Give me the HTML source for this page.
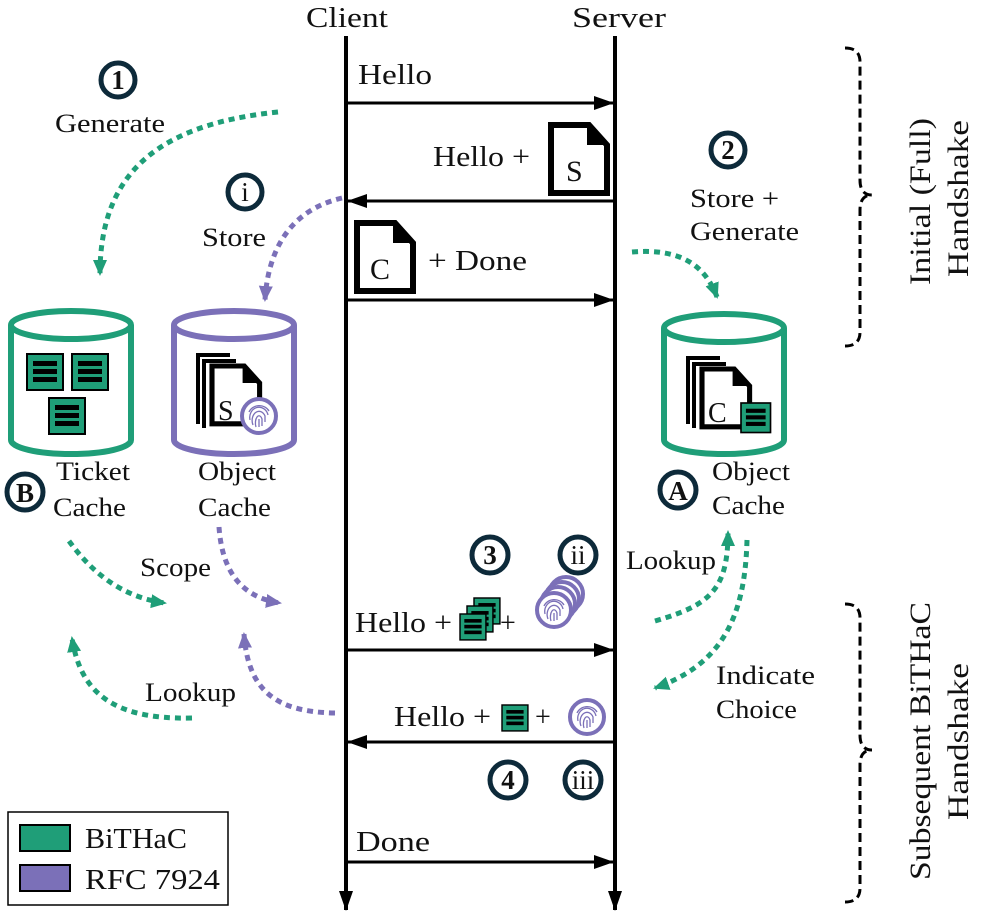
<!DOCTYPE html>
<html><head><meta charset="utf-8"><style>
html,body{margin:0;padding:0;background:#fff}
svg{display:block}
text{font-family:"Liberation Serif",serif;fill:#111}
</style></head><body>
<svg width="996" height="914" viewBox="0 0 996 914" xmlns="http://www.w3.org/2000/svg">
<defs>
<marker id="ab" markerWidth="20" markerHeight="14" refX="19" refY="7" orient="auto" markerUnits="userSpaceOnUse"><path d="M0,0 L20,7 L0,14 z" fill="#000"/></marker>
<marker id="ag" markerWidth="16" markerHeight="16" refX="14" refY="8" orient="auto" markerUnits="userSpaceOnUse"><path d="M0,1 L16,8 L0,15 z" fill="#1f9e78"/></marker>
<marker id="ap" markerWidth="16" markerHeight="16" refX="14" refY="8" orient="auto" markerUnits="userSpaceOnUse"><path d="M0,1 L16,8 L0,15 z" fill="#7b70b8"/></marker>
<g id="doc"><path d="M0,0 H38 L56,20 V68 H0 Z" fill="#fff" stroke="#000" stroke-width="6"/><path d="M36,0 V20 H56 Z" fill="#000"/></g>
<g id="tk"><rect x="0" y="0" width="36" height="36" fill="#1f9e78" stroke="#000" stroke-width="2"/><rect x="6" y="7" width="24" height="5" fill="#000"/><rect x="6" y="15" width="24" height="5" fill="#000"/><rect x="6" y="23" width="24" height="5" fill="#000"/></g>
<g id="fp"><circle cx="0" cy="0" r="17" fill="#fff" stroke="#7b70b8" stroke-width="4"/><g fill="none" stroke="#7b70b8" stroke-width="1.3"><path d="M-9,4 A9,10 0 0 1 9,-1"/><path d="M-6,9 A6,8 0 0 1 6,0 V6"/><path d="M-3,11 A3,6 0 0 1 3,3 V10"/><path d="M0,3 V11"/><path d="M-10,-4 A11,10 0 0 1 10,-5"/></g></g>
</defs>

<!-- lifelines -->
<text x="306" y="27" font-size="28" textLength="82" lengthAdjust="spacingAndGlyphs">Client</text>
<text x="572" y="27" font-size="28" textLength="94" lengthAdjust="spacingAndGlyphs">Server</text>
<line x1="346" y1="36" x2="346" y2="910" stroke="#000" stroke-width="4" marker-end="url(#ab)"/>
<line x1="615" y1="36" x2="615" y2="910" stroke="#000" stroke-width="4" marker-end="url(#ab)"/>

<g font-size="28">
<!-- messages -->
<line x1="346" y1="103" x2="613" y2="103" stroke="#000" stroke-width="3" marker-end="url(#ab)"/>
<text x="358" y="84" textLength="74" lengthAdjust="spacingAndGlyphs">Hello</text>
<line x1="615" y1="201" x2="348" y2="201" stroke="#000" stroke-width="3" marker-end="url(#ab)"/>
<text x="433" y="166" textLength="97" lengthAdjust="spacingAndGlyphs">Hello +</text>
<use href="#doc" x="551" y="125"/><text x="566" y="181" font-size="30">S</text>
<line x1="346" y1="300" x2="613" y2="300" stroke="#000" stroke-width="3" marker-end="url(#ab)"/>
<use href="#doc" x="357" y="223"/><text x="370" y="279" font-size="30">C</text>
<text x="428" y="270" textLength="99" lengthAdjust="spacingAndGlyphs">+ Done</text>

<line x1="346" y1="650" x2="613" y2="650" stroke="#000" stroke-width="3" marker-end="url(#ab)"/>
<text x="355" y="632" textLength="97" lengthAdjust="spacingAndGlyphs">Hello +</text>
<g transform="translate(474,598) scale(0.72)"><use href="#tk"/></g>
<g transform="translate(467,606) scale(0.72)"><use href="#tk"/></g>
<g transform="translate(460,614) scale(0.72)"><use href="#tk"/></g>
<text x="500" y="632">+</text>
<use href="#fp" x="566" y="594"/><use href="#fp" x="562" y="599"/><use href="#fp" x="558" y="604"/><use href="#fp" x="554" y="610"/>

<line x1="615" y1="742" x2="348" y2="742" stroke="#000" stroke-width="3" marker-end="url(#ab)"/>
<text x="394" y="726" textLength="97" lengthAdjust="spacingAndGlyphs">Hello +</text>
<g transform="translate(502,705) scale(0.72)"><use href="#tk"/></g>
<text x="535" y="726">+</text>
<use href="#fp" x="587" y="717"/>

<line x1="346" y1="862" x2="613" y2="862" stroke="#000" stroke-width="3" marker-end="url(#ab)"/>
<text x="356" y="851" textLength="74" lengthAdjust="spacingAndGlyphs">Done</text>
</g>

<!-- badges -->
<g stroke="#0d2a3a" stroke-width="5" fill="#fff">
<circle cx="118" cy="80" r="17"/><circle cx="245" cy="192" r="17"/><circle cx="728" cy="150" r="17"/>
<circle cx="678" cy="490" r="18"/><circle cx="25" cy="492" r="18"/>
<circle cx="490" cy="555" r="18"/><circle cx="578" cy="555" r="18"/>
<circle cx="508" cy="780" r="18"/><circle cx="583" cy="780" r="18"/>
</g>
<g font-size="27" font-weight="bold" text-anchor="middle">
<text x="118" y="89">1</text><text x="728" y="159">2</text><text x="678" y="500">A</text><text x="25" y="502">B</text>
<text x="490" y="564">3</text><text x="508" y="789">4</text>
</g>
<g font-size="27" text-anchor="middle">
<text x="245" y="201">i</text><text x="578" y="564">ii</text><text x="583" y="789">iii</text>
</g>
<g font-size="26">
<text x="55" y="132" textLength="110" lengthAdjust="spacingAndGlyphs">Generate</text>
<text x="202" y="246" textLength="64" lengthAdjust="spacingAndGlyphs">Store</text>
<text x="690" y="207" textLength="89" lengthAdjust="spacingAndGlyphs">Store +</text>
<text x="690" y="240" textLength="109" lengthAdjust="spacingAndGlyphs">Generate</text>
</g>

<!-- cylinders -->
<g fill="#fff" stroke-width="6">
<path d="M11,325 V440 A60,14 0 0 0 131,440 V325" stroke="#1f9e78"/>
<ellipse cx="71" cy="325" rx="60" ry="14" stroke="#1f9e78"/>
<path d="M174,325 V440 A60,14 0 0 0 294,440 V325" stroke="#7b70b8"/>
<ellipse cx="234" cy="325" rx="60" ry="14" stroke="#7b70b8"/>
<path d="M664,328 V440 A60,14 0 0 0 784,440 V328" stroke="#1f9e78"/>
<ellipse cx="724" cy="328" rx="60" ry="14" stroke="#1f9e78"/>
</g>
<use href="#tk" x="27" y="354"/><use href="#tk" x="72" y="354"/><use href="#tk" x="49" y="398"/>
<g fill="none" stroke="#000" stroke-width="4">
<path d="M198,424 V355 H230"/><path d="M204,428 V361 H236"/>
<path d="M688,424 V358 H720"/><path d="M694,428 V364 H726"/>
</g>
<g transform="translate(212,366) scale(0.85)"><use href="#doc"/></g><text x="218" y="420" font-size="28">S</text>
<use href="#fp" x="259" y="416"/>
<g transform="translate(702,369) scale(0.85)"><use href="#doc"/></g><text x="708" y="422" font-size="28">C</text>
<g transform="translate(741,403) scale(0.82)"><use href="#tk"/></g>

<g font-size="26">
<text x="56" y="480" textLength="74" lengthAdjust="spacingAndGlyphs">Ticket</text><text x="53" y="516" textLength="73" lengthAdjust="spacingAndGlyphs">Cache</text>
<text x="198" y="480" textLength="78" lengthAdjust="spacingAndGlyphs">Object</text><text x="198" y="516" textLength="73" lengthAdjust="spacingAndGlyphs">Cache</text>
<text x="712" y="480" textLength="78" lengthAdjust="spacingAndGlyphs">Object</text><text x="712" y="514" textLength="73" lengthAdjust="spacingAndGlyphs">Cache</text>
<text x="140" y="576" textLength="71" lengthAdjust="spacingAndGlyphs">Scope</text>
<text x="145" y="701" textLength="91" lengthAdjust="spacingAndGlyphs">Lookup</text>
<text x="626" y="569" textLength="90" lengthAdjust="spacingAndGlyphs">Lookup</text>
<text x="716" y="684" textLength="99" lengthAdjust="spacingAndGlyphs">Indicate</text><text x="716" y="718" textLength="81" lengthAdjust="spacingAndGlyphs">Choice</text>
</g>

<!-- dotted arrows -->
<g fill="none" stroke-width="5" stroke-dasharray="6 5">
<path d="M278,112 C150,125 100,180 100,274" stroke="#1f9e78" marker-end="url(#ag)"/>
<path d="M342,198 C290,210 268,250 265,300" stroke="#7b70b8" marker-end="url(#ap)"/>
<path d="M632,252 C680,248 705,265 717,297" stroke="#1f9e78" marker-end="url(#ag)"/>
<path d="M69,541 C90,570 120,597 165,603" stroke="#1f9e78" marker-end="url(#ag)"/>
<path d="M219,527 C222,570 240,597 280,603" stroke="#7b70b8" marker-end="url(#ap)"/>
<path d="M192,718 C110,720 80,690 72,638" stroke="#1f9e78" marker-end="url(#ag)"/>
<path d="M335,713 C275,712 248,690 244,634" stroke="#7b70b8" marker-end="url(#ap)"/>
<path d="M655,621 C710,605 728,590 728,532" stroke="#1f9e78" marker-end="url(#ag)"/>
<path d="M747,540 C745,620 720,665 655,688" stroke="#1f9e78" marker-end="url(#ag)"/>
</g>

<!-- braces -->
<g fill="none" stroke="#000" stroke-width="3" stroke-dasharray="9 5">
<path d="M845,48 Q860,48 860,62 V180 Q860,195 872,195 Q860,195 860,210 V332 Q860,346 845,346"/>
<path d="M845,604 Q860,604 860,618 V735 Q860,750 872,750 Q860,750 860,765 V888 Q860,902 845,902"/>
</g>
<g font-size="30">
<text transform="translate(930,285) rotate(-90)" textLength="167" lengthAdjust="spacingAndGlyphs">Initial (Full)</text>
<text transform="translate(968,277) rotate(-90)" textLength="157" lengthAdjust="spacingAndGlyphs">Handshake</text>
<text transform="translate(930,880) rotate(-90)" textLength="278" lengthAdjust="spacingAndGlyphs">Subsequent BiTHaC</text>
<text transform="translate(968,820) rotate(-90)" textLength="157" lengthAdjust="spacingAndGlyphs">Handshake</text>
</g>

<!-- legend -->
<rect x="8" y="812" width="220" height="93" fill="#fff" stroke="#000" stroke-width="1.5"/>
<rect x="20" y="825" width="50" height="26" fill="#1f9e78" stroke="#000" stroke-width="2"/>
<rect x="20" y="865" width="50" height="26" fill="#7b70b8" stroke="#000" stroke-width="2"/>
<text x="85" y="848" font-size="28" textLength="102" lengthAdjust="spacingAndGlyphs">BiTHaC</text>
<text x="85" y="889" font-size="28" textLength="135" lengthAdjust="spacingAndGlyphs">RFC 7924</text>
</svg>
</body></html>
